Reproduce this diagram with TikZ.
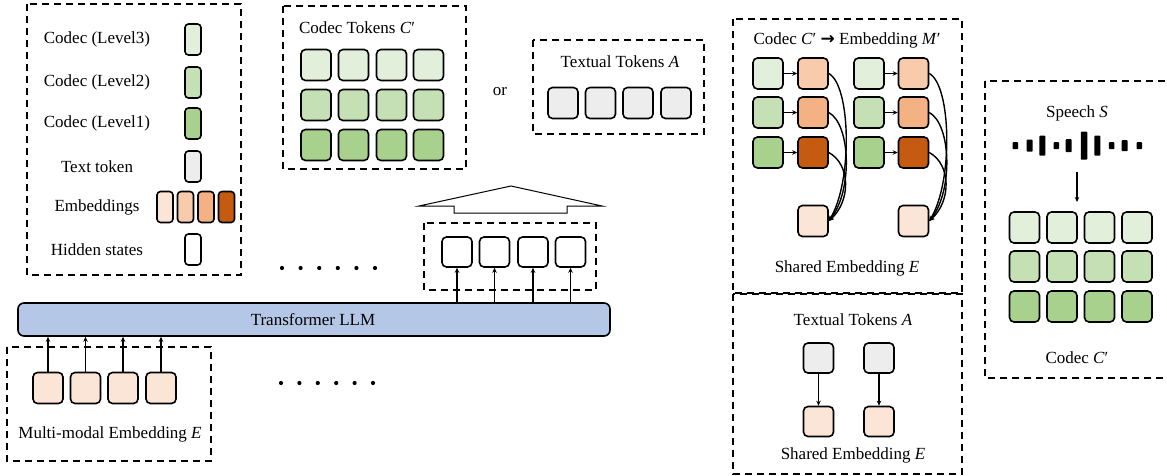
\documentclass[tikz,border=0pt]{standalone}
\usepackage{fontspec}
\setmainfont{Liberation Serif}
\newfontfamily\arrfont{DejaVu Sans}
\usetikzlibrary{arrows.meta}
\definecolor{gA}{HTML}{E2EFDA}
\definecolor{gB}{HTML}{C5E0B4}
\definecolor{gC}{HTML}{A9D18E}
\definecolor{tg}{HTML}{EDEDED}
\definecolor{oA}{HTML}{FBE5D6}
\definecolor{oB}{HTML}{F8CBAD}
\definecolor{oC}{HTML}{F4B183}
\definecolor{oD}{HTML}{C55A11}
\definecolor{llm}{HTML}{B4C7E7}
\tikzset{
 tok/.style={draw, line width=1.6pt, rounded corners=4.5pt, minimum width=30pt, minimum height=31pt, inner sep=0pt},
 ltok/.style={draw, line width=1.6pt, rounded corners=3.5pt, minimum width=16pt, minimum height=31pt, inner sep=0pt},
 dbox/.style={draw, line width=1.6pt, dash pattern=on 7pt off 5pt},
 arr/.style={line width=1.4pt, -{Stealth[length=5pt,width=4.5pt]}},
 lbl/.style={inner sep=0pt, font=\fontsize{17}{20}\selectfont},
 wbar/.style={fill=black, rounded corners=0.8pt},
}
\begin{document}
\begin{tikzpicture}[x=1pt,y=-1pt]
\useasboundingbox (0,0) rectangle (1167,476);
\clip (0,0) rectangle (1167,476);

% ---------- legend ----------
\draw[dbox] (27,4) rectangle (241,275);
\node[lbl] (t3) at (97,39.5) {Codec (Level3)};
\node[lbl] (t2) at (97,82.5) {Codec (Level2)};
\node[lbl] (t1) at (97,123.5) {Codec (Level1)};
\node[lbl] (tt) at (97,166.5) {Text token};
\node[lbl] (te) at (97,207) {Embeddings};
\node[lbl] (th) at (97,249.5) {Hidden states};
\node[ltok, fill=gA] (k3) at (193,39.5) {};
\node[ltok, fill=gB] (k2) at (193,82.5) {};
\node[ltok, fill=gC] (k1) at (193,123.5) {};
\node[ltok, fill=tg] (kt) at (193,166.5) {};
\node[ltok, fill=oA] (ke1) at (165,207) {};
\node[ltok, fill=oB] (ke2) at (185.5,207) {};
\node[ltok, fill=oC] (ke3) at (206,207) {};
\node[ltok, fill=oD] (ke4) at (226.5,207) {};
\node[ltok, fill=white] (kh) at (193,249.5) {};

% ---------- codec tokens C' ----------
\draw[dbox] (283,6) rectangle (466,169);
\node[lbl] (ctt) at (357,28) {Codec Tokens \textit{C}′};
\foreach \c/\x in {1/316,2/353.5,3/391.5,4/428.5}{
  \node[tok, fill=gA] (ca\c) at (\x,65) {};
  \node[tok, fill=gB] (cb\c) at (\x,105) {};
  \node[tok, fill=gC] (cc\c) at (\x,145) {};
}
\node[lbl] (or) at (500,92) {or};

% ---------- textual tokens A ----------
\draw[dbox] (533,40) rectangle (704,134);
\node[lbl] (ttt) at (620,62) {Textual Tokens \textit{A}};
\foreach \c/\x in {1/563,2/600.5,3/638,4/676}{
  \node[tok, fill=tg] (ta\c) at (\x,103) {};
}

% ---------- big hollow arrow ----------
\draw[line width=1pt, fill=white] (419,206) -- (511,186) -- (602,206) -- (567,206) -- (567,213) -- (454,213) -- (454,206) -- cycle;

% ---------- hidden states ----------
\draw[dbox] (424,223) rectangle (596,290);
\foreach \c/\x in {1/457,2/494.5,3/533,4/570.5}{
  \node[tok, fill=white, minimum height=30pt] (h\c) at (\x,252) {};
}

% ---------- dots ----------
\foreach \i in {0,...,5}{
  \fill (282+18.6*\i,268) circle (2.1pt);
  \fill (281+18.4*\i,383) circle (2.1pt);
}

% ---------- transformer ----------
\node[draw, line width=1.6pt, fill=llm, rounded corners=6pt, minimum width=592pt, minimum height=33pt, inner sep=0pt] (llm) at (314,319.5) {};
\node[lbl] (llmt) at (313,319.5) {Transformer LLM};

% ---------- multimodal embedding ----------
\draw[dbox] (7,347) rectangle (211,461);
\foreach \c/\x in {1/48,2/85.5,3/123,4/161}{
  \node[tok, fill=oA] (e\c) at (\x,388) {};
  \draw[arr] (e\c.north) -- (e\c.north |- llm.south);
}
\node[lbl] (mmt) at (110,434) {Multi-modal Embedding \textit{E}};
\foreach \c in {1,...,4}{
  \draw[arr] (h\c.south |- llm.north) -- (h\c.south);
}

% ---------- codec -> embedding ----------
\draw[dbox] (733,19) rectangle (962,293);
\node[lbl] (cet) at (847,40) {Codec \textit{C}′ {\arrfont\bfseries →} Embedding \textit{M}′};
\foreach \r/\y/\gc/\oc in {1/73.5/gA/oB,2/112.5/gB/oC,3/152.5/gC/oD}{
  \node[tok, fill=\gc] (g\r) at (768,\y) {};
  \node[tok, fill=\oc] (o\r) at (813,\y) {};
  \node[tok, fill=\gc] (q\r) at (869,\y) {};
  \node[tok, fill=\oc] (p\r) at (913.5,\y) {};
  \draw[arr] (g\r.east) -- (o\r.west);
  \draw[arr] (q\r.east) -- (p\r.west);
}
\node[tok, fill=oA] (s1) at (813,221) {};
\node[tok, fill=oA] (s2) at (913.5,221) {};
\draw[arr] (o1.east) .. controls +(22,12) and +(24,-40) .. (s1.east);
\draw[arr] (o2.east) .. controls +(22,12) and +(24,-30) .. (s1.east);
\draw[arr] (o3.east) .. controls +(22,12) and +(22,-20) .. (s1.east);
\draw[arr] (p1.east) .. controls +(22,12) and +(24,-40) .. (s2.east);
\draw[arr] (p2.east) .. controls +(22,12) and +(24,-30) .. (s2.east);
\draw[arr] (p3.east) .. controls +(22,12) and +(22,-20) .. (s2.east);
\node[lbl] (set) at (847,268) {Shared Embedding \textit{E}};

% ---------- textual tokens -> embedding ----------
\draw[dbox] (733,294) rectangle (962,474);
\node[lbl] (tat) at (853,320) {Textual Tokens \textit{A}};
\node[tok, fill=tg, minimum height=30pt] (x1) at (818.5,358) {};
\node[tok, fill=tg, minimum height=30pt] (x2) at (879,358) {};
\node[tok, fill=oA, minimum height=30pt] (y1) at (818.5,421.5) {};
\node[tok, fill=oA, minimum height=30pt] (y2) at (879,421.5) {};
\draw[arr] (x1.south) -- (y1.north);
\draw[arr] (x2.south) -- (y2.north);
\node[lbl] (set2) at (853,455) {Shared Embedding \textit{E}};

% ---------- speech ----------
\draw[dbox] (985,81) rectangle (1180,378);
\node[lbl] (spt) at (1077,113) {Speech \textit{S}};
\foreach \x/\w/\h in {1015.3/5.5/7,1029.7/6/12,1042.3/6/20,1056.3/5.5/7,1068.7/6/13,1084/6.5/28,1097.3/6/20,1111.7/5.5/7,1124.7/6/11,1139.3/5.5/7}{
  \fill[wbar] (\x-\w/2,145.7-\h/2) rectangle (\x+\w/2,145.7+\h/2);
}
\coordinate (wv) at (1077,172);
\foreach \c/\x in {1/1024.5,2/1062,3/1099.5,4/1137}{
  \node[tok, fill=gA] (sa\c) at (\x,227.5) {};
  \node[tok, fill=gB] (sb\c) at (\x,266.5) {};
  \node[tok, fill=gC] (sc\c) at (\x,306.5) {};
}
\coordinate (wt) at (1077,202);
\draw[arr] (wv) -- (wt);
\node[lbl] (cct) at (1077,358) {Codec \textit{C}′};
\end{tikzpicture}
\end{document}
